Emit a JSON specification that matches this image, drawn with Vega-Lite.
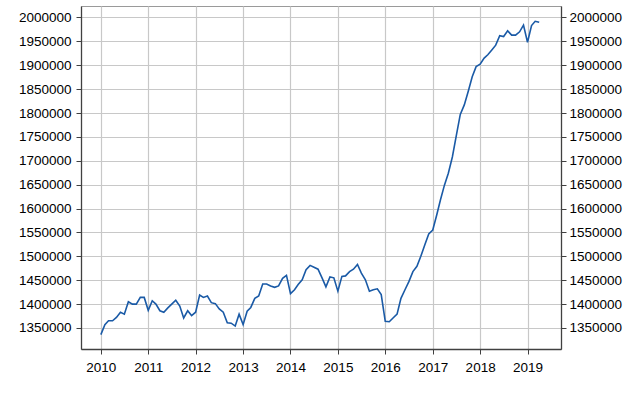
{
  "$schema": "https://vega.github.io/schema/vega-lite/v6.json",
  "width": 480,
  "height": 343,
  "autosize": {"type": "none"},
  "padding": {"left": 81, "top": 6, "right": 79, "bottom": 59},
  "background": "white",
  "config": {
    "view": {"stroke": "#9a9a9a", "strokeWidth": 1},
    "axis": {
      "labelFont": "Liberation Sans",
      "labelFontSize": 13.5,
      "labelColor": "#000000",
      "domainColor": "#404040",
      "domainWidth": 1.3,
      "tickColor": "#404040",
      "tickSize": 5,
      "labelPadding": 4,
      "gridColor": "#c8c8c8",
      "gridWidth": 1.2,
      "title": null
    }
  },
  "data": {
    "values": [
      {"date": "2010-01-01", "value": 1336000}, {"date": "2010-02-01", "value": 1357000}, {"date": "2010-03-01", "value": 1365000}, {"date": "2010-04-01", "value": 1365000},
      {"date": "2010-05-01", "value": 1372000}, {"date": "2010-06-01", "value": 1383000}, {"date": "2010-07-01", "value": 1379000}, {"date": "2010-08-01", "value": 1405000},
      {"date": "2010-09-01", "value": 1400000}, {"date": "2010-10-01", "value": 1400000}, {"date": "2010-11-01", "value": 1414000}, {"date": "2010-12-01", "value": 1414000},
      {"date": "2011-01-01", "value": 1387000}, {"date": "2011-02-01", "value": 1407000}, {"date": "2011-03-01", "value": 1400000}, {"date": "2011-04-01", "value": 1386000},
      {"date": "2011-05-01", "value": 1383000}, {"date": "2011-06-01", "value": 1392000}, {"date": "2011-07-01", "value": 1400000}, {"date": "2011-08-01", "value": 1408000},
      {"date": "2011-09-01", "value": 1396000}, {"date": "2011-10-01", "value": 1371000}, {"date": "2011-11-01", "value": 1386000}, {"date": "2011-12-01", "value": 1376000},
      {"date": "2012-01-01", "value": 1383000}, {"date": "2012-02-01", "value": 1419000}, {"date": "2012-03-01", "value": 1414000}, {"date": "2012-04-01", "value": 1417000},
      {"date": "2012-05-01", "value": 1403000}, {"date": "2012-06-01", "value": 1401000}, {"date": "2012-07-01", "value": 1390000}, {"date": "2012-08-01", "value": 1383000},
      {"date": "2012-09-01", "value": 1361000}, {"date": "2012-10-01", "value": 1360000}, {"date": "2012-11-01", "value": 1354000}, {"date": "2012-12-01", "value": 1379000},
      {"date": "2013-01-01", "value": 1357000}, {"date": "2013-02-01", "value": 1385000}, {"date": "2013-03-01", "value": 1393000}, {"date": "2013-04-01", "value": 1412000},
      {"date": "2013-05-01", "value": 1417000}, {"date": "2013-06-01", "value": 1442000}, {"date": "2013-07-01", "value": 1442000}, {"date": "2013-08-01", "value": 1438000},
      {"date": "2013-09-01", "value": 1435000}, {"date": "2013-10-01", "value": 1438000}, {"date": "2013-11-01", "value": 1454000}, {"date": "2013-12-01", "value": 1460000},
      {"date": "2014-01-01", "value": 1422000}, {"date": "2014-02-01", "value": 1430000}, {"date": "2014-03-01", "value": 1441000}, {"date": "2014-04-01", "value": 1451000},
      {"date": "2014-05-01", "value": 1472000}, {"date": "2014-06-01", "value": 1481000}, {"date": "2014-07-01", "value": 1477000}, {"date": "2014-08-01", "value": 1473000},
      {"date": "2014-09-01", "value": 1455000}, {"date": "2014-10-01", "value": 1436000}, {"date": "2014-11-01", "value": 1457000}, {"date": "2014-12-01", "value": 1455000},
      {"date": "2015-01-01", "value": 1427000}, {"date": "2015-02-01", "value": 1458000}, {"date": "2015-03-01", "value": 1459000}, {"date": "2015-04-01", "value": 1468000},
      {"date": "2015-05-01", "value": 1473000}, {"date": "2015-06-01", "value": 1483000}, {"date": "2015-07-01", "value": 1465000}, {"date": "2015-08-01", "value": 1451000},
      {"date": "2015-09-01", "value": 1427000}, {"date": "2015-10-01", "value": 1430000}, {"date": "2015-11-01", "value": 1432000}, {"date": "2015-12-01", "value": 1420000},
      {"date": "2016-01-01", "value": 1364000}, {"date": "2016-02-01", "value": 1363000}, {"date": "2016-03-01", "value": 1371000}, {"date": "2016-04-01", "value": 1379000},
      {"date": "2016-05-01", "value": 1412000}, {"date": "2016-06-01", "value": 1430000}, {"date": "2016-07-01", "value": 1447000}, {"date": "2016-08-01", "value": 1468000},
      {"date": "2016-09-01", "value": 1479000}, {"date": "2016-10-01", "value": 1500000}, {"date": "2016-11-01", "value": 1524000}, {"date": "2016-12-01", "value": 1547000},
      {"date": "2017-01-01", "value": 1555000}, {"date": "2017-02-01", "value": 1587000}, {"date": "2017-03-01", "value": 1618000}, {"date": "2017-04-01", "value": 1649000},
      {"date": "2017-05-01", "value": 1674000}, {"date": "2017-06-01", "value": 1708000}, {"date": "2017-07-01", "value": 1752000}, {"date": "2017-08-01", "value": 1797000},
      {"date": "2017-09-01", "value": 1817000}, {"date": "2017-10-01", "value": 1845000}, {"date": "2017-11-01", "value": 1876000}, {"date": "2017-12-01", "value": 1897000},
      {"date": "2018-01-01", "value": 1902000}, {"date": "2018-02-01", "value": 1915000}, {"date": "2018-03-01", "value": 1922000}, {"date": "2018-04-01", "value": 1932000},
      {"date": "2018-05-01", "value": 1942000}, {"date": "2018-06-01", "value": 1962000}, {"date": "2018-07-01", "value": 1960000}, {"date": "2018-08-01", "value": 1972000},
      {"date": "2018-09-01", "value": 1963000}, {"date": "2018-10-01", "value": 1963000}, {"date": "2018-11-01", "value": 1970000}, {"date": "2018-12-01", "value": 1984000},
      {"date": "2019-01-01", "value": 1948000}, {"date": "2019-02-01", "value": 1983000}, {"date": "2019-03-01", "value": 1992000}, {"date": "2019-04-01", "value": 1990000}
    ]
  },
  "encoding": {
    "x": {
      "field": "date",
      "type": "temporal",
      "scale": {"domain": ["2009-08-01", "2019-09-16"], "nice": false},
      "axis": {"format": "%Y", "tickCount": {"interval": "year", "step": 1}, "grid": true, "labelPadding": 6}
    }
  },
  "layer": [
    {
      "mark": {"type": "line", "color": "#1a5aa6", "strokeWidth": 1.6},
      "encoding": {
        "y": {
          "field": "value",
          "type": "quantitative",
          "scale": {"domain": [1306000, 2024000], "nice": false, "zero": false},
          "axis": {"orient": "left", "format": "d", "values": [1350000, 1400000, 1450000, 1500000, 1550000, 1600000, 1650000, 1700000, 1750000, 1800000, 1850000, 1900000, 1950000, 2000000], "grid": true, "labelPadding": 5}
        }
      }
    },
    {
      "mark": {"type": "line", "opacity": 0},
      "encoding": {
        "y": {
          "field": "value",
          "type": "quantitative",
          "scale": {"domain": [1306000, 2024000], "nice": false, "zero": false},
          "axis": {"orient": "right", "format": "d", "values": [1350000, 1400000, 1450000, 1500000, 1550000, 1600000, 1650000, 1700000, 1750000, 1800000, 1850000, 1900000, 1950000, 2000000], "grid": false, "labelPadding": 3}
        }
      }
    }
  ],
  "resolve": {"axis": {"y": "independent"}}
}
